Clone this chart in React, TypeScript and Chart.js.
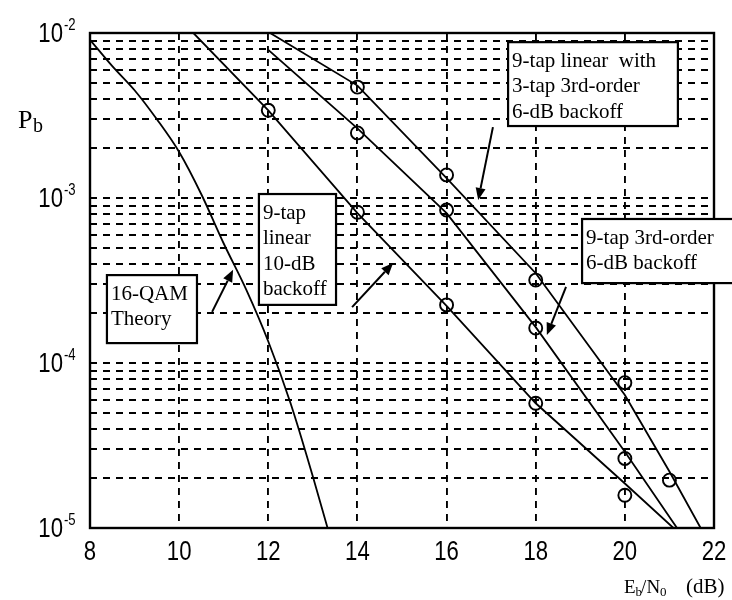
import React, { useEffect, useRef } from "react";
import { Chart, registerables } from "chart.js";

Chart.register(...registerables);

// Axis ticks
const X_TICKS = [8, 10, 12, 14, 16, 18, 20, 22];
const Y_DECADES = [-5, -4, -3, -2];

// 16-QAM theory
const theoryEbN0 = [8, 8.5, 9, 9.5, 10, 10.5, 11, 11.5, 12, 12.5, 13, 13.33];
const theoryPb = [9.1e-3, 6.3e-3, 4.5e-3, 3.0e-3, 1.9e-3, 1.05e-3, 5.3e-4, 2.8e-4, 1.35e-4, 5.7e-5, 2.05e-5, 1.0e-5];

// 9-tap linear, 10-dB backoff
const linFitEbN0 = [10.32, 12, 14, 16, 18, 20, 21.09];
const linFitPb = [1.0e-2, 3.4e-3, 8.1e-4, 2.22e-4, 5.7e-5, 1.86e-5, 1.0e-5];
const linSimEbN0 = [12, 14, 16, 18, 20];
const linSimPb = [3.4e-3, 8.2e-4, 2.25e-4, 5.7e-5, 1.58e-5];

// 9-tap 3rd-order, 6-dB backoff
const cubFitEbN0 = [12, 14, 16, 18, 20, 21.17];
const cubFitPb = [7.9e-3, 2.64e-3, 8.1e-4, 1.65e-4, 2.9e-5, 1.0e-5];
const cubSimEbN0 = [14, 16, 18, 20];
const cubSimPb = [2.48e-3, 8.45e-4, 1.63e-4, 2.64e-5];

// 9-tap linear with 3-tap 3rd-order, 6-dB backoff
const mixFitEbN0 = [12.04, 14, 16, 18, 20, 21, 21.7];
const mixFitPb = [1.0e-2, 4.8e-3, 1.32e-3, 3.5e-4, 6.4e-5, 2.2e-5, 1.0e-5];
const mixSimEbN0 = [14, 16, 18, 20, 21];
const mixSimPb = [4.7e-3, 1.38e-3, 3.18e-4, 7.6e-5, 1.95e-5];

// Callout boxes, corners given in axis units (Eb/N0, Pb)
const calloutLines = [
  ["9-tap linear  with", "3-tap 3rd-order", "6-dB backoff"],
  ["9-tap 3rd-order", "6-dB backoff"],
  ["9-tap", "linear", "10-dB", "backoff"],
  ["16-QAM", "Theory"],
];
const calloutX = [[17.38, 21.19], [19.04, 22.6], [11.79, 13.52], [8.38, 10.4]];
const calloutY = [[8.8e-3, 2.73e-3], [7.46e-4, 3.05e-4], [1.057e-3, 2.25e-4], [3.41e-4, 1.32e-4]];

// Pointer arrows: tail -> head in axis units
const arrowX = [[10.74, 11.21], [13.88, 14.8], [17.04, 16.71], [18.68, 18.25]];
const arrowY = [[2.04e-4, 3.67e-4], [2.18e-4, 4.04e-4], [2.69e-3, 9.73e-4], [2.89e-4, 1.48e-4]];

const TICK_FONT = '27px "Liberation Sans", Arial, sans-serif';
const SUP_FONT = '16px "Liberation Sans", Arial, sans-serif';
const NARROW = 0.82;
const SERIF = '"Liberation Serif", "Times New Roman", serif';

const pts = (xs: number[], ys: number[]) => xs.map((x, i) => ({ x, y: ys[i] }));

const yGridValues = (): number[] => {
  const v: number[] = [];
  for (let e = -5; e < -2; e++) {
    for (let k = 1; k <= 9; k++) v.push(k * Math.pow(10, e));
  }
  v.push(1e-2);
  return v;
};

const fitLine = (data: { x: number; y: number }[], smooth = false) => ({
  data,
  borderColor: "#000",
  borderWidth: 1.8,
  pointRadius: 0,
  fill: false,
  tension: 0,
  cubicInterpolationMode: smooth ? "monotone" : "default",
});

const simPoints = (data: { x: number; y: number }[]) => ({
  data,
  showLine: false,
  borderColor: "#000",
  backgroundColor: "rgba(0,0,0,0)",
  pointBorderColor: "#000",
  pointBackgroundColor: "rgba(0,0,0,0)",
  pointRadius: 6.5,
  pointBorderWidth: 1.9,
  pointStyle: "circle",
});

// Draws horizontally condensed text, anchored by align at (x, y)
const narrowText = (ctx: CanvasRenderingContext2D, s: string, x: number, y: number, align: "left" | "right" | "center") => {
  const w = ctx.measureText(s).width * NARROW;
  let left = x;
  if (align === "right") left = x - w;
  else if (align === "center") left = x - w / 2;
  ctx.save();
  ctx.translate(left, y);
  ctx.scale(NARROW, 1);
  ctx.textAlign = "left";
  ctx.fillText(s, 0, 0);
  ctx.restore();
};

const decorations = {
  id: "decorations",
  afterDatasetsDraw(chart: any) {
    const { ctx, chartArea: a } = chart;
    ctx.save();
    ctx.strokeStyle = "#000";
    ctx.lineWidth = 2.4;
    ctx.setLineDash([]);
    ctx.strokeRect(a.left, a.top, a.right - a.left, a.bottom - a.top);
    ctx.restore();
  },
  afterDraw(chart: any) {
    const { ctx, chartArea: a } = chart;
    const xs = chart.scales.x;
    const ys = chart.scales.y;
    ctx.save();
    ctx.fillStyle = "#000";
    ctx.strokeStyle = "#000";
    ctx.setLineDash([]);
    ctx.textBaseline = "alphabetic";

    // y tick labels 10^k
    for (const e of Y_DECADES) {
      const py = ys.getPixelForValue(Math.pow(10, e));
      ctx.font = TICK_FONT;
      narrowText(ctx, "10", a.left - 27, py + 9, "right");
      ctx.font = SUP_FONT;
      narrowText(ctx, "-" + Math.abs(e), a.left - 26, py - 3, "left");
    }

    // x tick labels
    ctx.font = TICK_FONT;
    for (const v of X_TICKS) {
      narrowText(ctx, String(v), xs.getPixelForValue(v), a.bottom + 32, "center");
    }

    // axis titles
    ctx.textAlign = "left";
    ctx.font = "26px " + SERIF;
    ctx.fillText("P", 18, 128);
    ctx.font = "20px " + SERIF;
    ctx.fillText("b", 33, 132);

    let tx = 624;
    const by = 593;
    ctx.font = "19px " + SERIF;
    ctx.fillText("E", tx, by);
    tx += ctx.measureText("E").width;
    ctx.font = "13px " + SERIF;
    ctx.fillText("b", tx, by + 3);
    tx += ctx.measureText("b").width - 1;
    ctx.font = "19px " + SERIF;
    ctx.fillText("/", tx, by);
    tx += ctx.measureText("/").width;
    ctx.fillText("N", tx, by);
    tx += ctx.measureText("N").width;
    ctx.font = "13px " + SERIF;
    ctx.fillText("0", tx, by + 3);
    ctx.font = "21px " + SERIF;
    ctx.fillText("(dB)", 686, by);

    // callout boxes
    ctx.font = "21px " + SERIF;
    calloutLines.forEach((lines, i) => {
      const l = xs.getPixelForValue(calloutX[i][0]);
      const r = xs.getPixelForValue(calloutX[i][1]);
      const t = ys.getPixelForValue(calloutY[i][0]);
      const b = ys.getPixelForValue(calloutY[i][1]);
      ctx.fillStyle = "#fff";
      ctx.fillRect(l, t, r - l, b - t);
      ctx.lineWidth = 2.2;
      ctx.strokeStyle = "#000";
      ctx.strokeRect(l, t, r - l, b - t);
      ctx.fillStyle = "#000";
      ctx.textAlign = "left";
      lines.forEach((s, j) => ctx.fillText(s, l + 4, t + 25 + j * 25.3));
    });

    // arrows
    arrowX.forEach((ax, i) => {
      const x0 = xs.getPixelForValue(ax[0]);
      const x1 = xs.getPixelForValue(ax[1]);
      const y0 = ys.getPixelForValue(arrowY[i][0]);
      const y1 = ys.getPixelForValue(arrowY[i][1]);
      const ang = Math.atan2(y1 - y0, x1 - x0);
      const len = 12;
      const hw = 5;
      const bx = x1 - len * Math.cos(ang);
      const byy = y1 - len * Math.sin(ang);
      ctx.lineWidth = 2;
      ctx.beginPath();
      ctx.moveTo(x0, y0);
      ctx.lineTo(bx, byy);
      ctx.stroke();
      ctx.beginPath();
      ctx.moveTo(x1, y1);
      ctx.lineTo(bx + hw * Math.sin(ang), byy - hw * Math.cos(ang));
      ctx.lineTo(bx - hw * Math.sin(ang), byy + hw * Math.cos(ang));
      ctx.closePath();
      ctx.fill();
    });
    ctx.restore();
  },
};

export default function App() {
  const canvasRef = useRef<HTMLCanvasElement | null>(null);

  useEffect(() => {
    const canvas = canvasRef.current;
    if (!canvas) return;
    const chart = new Chart(canvas, {
      type: "line",
      data: {
        datasets: [
          fitLine(pts(theoryEbN0, theoryPb), true),
          fitLine(pts(linFitEbN0, linFitPb)),
          fitLine(pts(cubFitEbN0, cubFitPb)),
          fitLine(pts(mixFitEbN0, mixFitPb)),
          simPoints(pts(linSimEbN0, linSimPb)),
          simPoints(pts(cubSimEbN0, cubSimPb)),
          simPoints(pts(mixSimEbN0, mixSimPb)),
        ] as any,
      },
      options: {
        responsive: false,
        animation: false,
        devicePixelRatio: 1,
        layout: { padding: { left: 90, top: 33, right: 18, bottom: 72 } },
        plugins: { legend: { display: false }, tooltip: { enabled: false } },
        scales: {
          x: {
            type: "linear",
            min: 8,
            max: 22,
            afterBuildTicks: (s: any) => {
              s.ticks = X_TICKS.map((value) => ({ value }));
            },
            afterFit: (s: any) => {
              s.height = 0;
            },
            ticks: { display: false },
            grid: { color: "#000", lineWidth: 1.9, drawTicks: false },
            border: { display: false, dash: [7, 6] },
          },
          y: {
            type: "logarithmic",
            min: 1e-5,
            max: 1e-2,
            afterBuildTicks: (s: any) => {
              s.ticks = yGridValues().map((value) => ({ value }));
            },
            afterFit: (s: any) => {
              s.width = 0;
            },
            ticks: { display: false },
            grid: { color: "#000", lineWidth: 1.9, drawTicks: false },
            border: { display: false, dash: [7, 6] },
          },
        },
      } as any,
      plugins: [decorations],
    });
    return () => chart.destroy();
  }, []);

  return (
    <div style={{ position: "absolute", left: 0, top: 0, width: 732, height: 600, background: "#fff" }}>
      <canvas ref={canvasRef} width={732} height={600} />
    </div>
  );
}
